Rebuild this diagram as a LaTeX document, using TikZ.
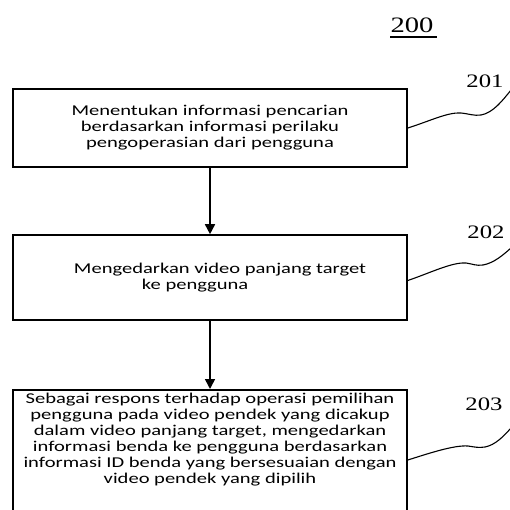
\documentclass[tikz,border=0pt]{standalone}
\usepackage{fontspec}
\usetikzlibrary{arrows.meta,positioning,calc}
\newfontfamily\boxfont[FakeStretch=1.37]{Carlito}
\newfontfamily\numfont[FakeStretch=1.3]{Liberation Serif}

\tikzset{
  stepbox/.style={draw,line width=1.6pt,minimum width=394pt,align=center,
    font=\boxfont\fontsize{15pt}{16pt}\selectfont},
  flow/.style={line width=1.6pt,-{Triangle[width=10pt,length=10pt]}},
  lead/.style={line width=1.1pt},
  refnum/.style={font=\numfont\fontsize{19pt}{20pt}\selectfont,inner sep=0pt}
}

\begin{document}
\begin{tikzpicture}[x=1pt,y=-1pt]
  \useasboundingbox (0,0) rectangle (509,510);

  \node[font=\numfont\fontsize{22pt}{24pt}\selectfont,inner sep=0pt] (fig) at (412,25) {200};
  \draw[line width=1.6pt] (390,37) -- (437,37);

  \node[stepbox,minimum height=78pt] (b1) at (210,128)
    {Menentukan informasi pencarian\\berdasarkan informasi perilaku\\pengoperasian dari pengguna};
  \node[stepbox,minimum height=85pt,align=left] (b2) at (210,277.5)
    {\hspace*{20pt}Mengedarkan video panjang target\\\hspace*{88pt}ke pengguna};
  \node[stepbox,anchor=north,inner ysep=3pt,text depth=75pt] (b3) at (210,389)
    {Sebagai respons terhadap operasi pemilihan\\
     pengguna pada video pendek yang dicakup\\
     dalam video panjang target, mengedarkan\\
     informasi benda ke pengguna berdasarkan\\
     informasi ID benda yang bersesuaian dengan\\
     video pendek yang dipilih};

  \draw[flow] (b1.south) -- (b2.north);
  \draw[flow] (b2.south) -- (b3.north);

  % reference numerals
  \node[refnum] (n1) at (485,81) {201};
  \node[refnum] (n2) at (486,232) {202};
  \node[refnum] (n3) at (484,404) {203};

  \coordinate (t1) at (511,90);
  \coordinate (t2) at (511,248);
  \coordinate (t3) at (511,428);
  \draw[lead] (b1.east) .. controls (430,121) and (448,112) .. (461,113)
    .. controls (470,114) and (474,116) .. (481,115)
    .. controls (493,113) and (503,100) .. (t1);
  \draw[lead] ($(b2.east)+(0,3)$) .. controls (430,273) and (452,262) .. (466,263)
    .. controls (473,264) and (476,266) .. (483,265)
    .. controls (494,263) and (503,255) .. (t2);
  \draw[lead] ($(b3.north east)+(0,71)$) .. controls (430,453) and (454,445) .. (468,446)
    .. controls (475,447) and (478,448) .. (485,447)
    .. controls (495,445) and (503,437) .. (t3);
\end{tikzpicture}
\end{document}
